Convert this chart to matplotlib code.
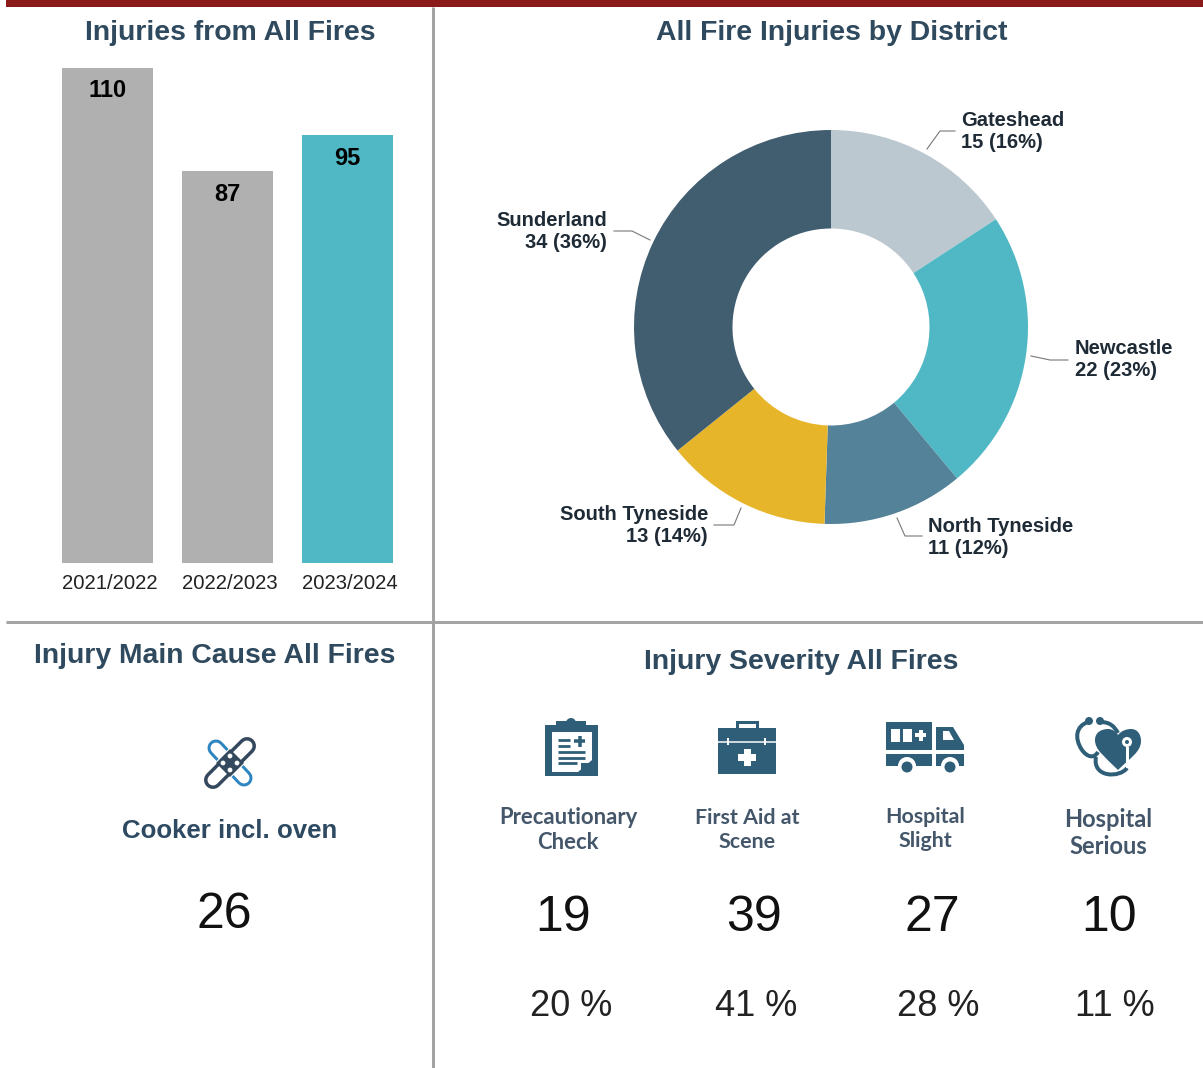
import matplotlib
matplotlib.use('Agg')
import matplotlib.pyplot as plt
from matplotlib.patches import Rectangle, Circle, Polygon, PathPatch
from matplotlib.path import Path

plt.rcParams['font.family'] = ['Liberation Sans', 'DejaVu Sans']

years = ['2021/2022', '2022/2023', '2023/2024']
injuries = [110, 87, 95]
bar_colors = ['#B0B0B0', '#B0B0B0', '#50B8C4']

districts = ['Gateshead', 'Newcastle', 'North Tyneside', 'South Tyneside', 'Sunderland']
district_values = [15, 22, 11, 13, 34]
district_pct = [16, 23, 12, 14, 36]
district_colors = ['#BCC8D0', '#50B8C4', '#548299', '#E6B52A', '#415D70']

severity_labels = ['Precautionary\nCheck', 'First Aid at\nScene', 'Hospital\nSlight', 'Hospital\nSerious']
severity_values = [19, 39, 27, 10]
severity_pct = [20, 41, 28, 11]

main_cause = 'Cooker incl. oven'
main_cause_value = 26

W, H = 1203, 1068
ICON = '#2F5F78'
DARK = '#1E2A35'


def px_axes(fig, x0, y0, x1, y1):
    # axes from pixel box, y measured from the top
    return fig.add_axes([x0/W, 1-y1/H, (x1-x0)/W, (y1-y0)/H])


def lw(px):
    return px*72/100


fig = plt.figure(figsize=(W/100, H/100), dpi=100, facecolor='white')

# bar panel
ax = px_axes(fig, 47.5, 68, 407.5, 563)
ax.bar(range(3), injuries, width=0.758, color=bar_colors)
ax.set_xlim(-0.5, 2.5)
ax.set_ylim(0, 110)
ax.set_xticks([0.02, 1.02, 2.02])
ax.set_xticklabels(years, fontsize=14.6, color='#222222')
ax.tick_params(axis='x', length=0, pad=8)
ax.set_yticks([])
for s in ax.spines.values():
    s.set_visible(False)
for i, v in enumerate(injuries):
    ax.text(i, v-5.1, str(v), ha='center', va='center', fontsize=17, fontweight='bold', color='black')

# donut panel
ax2 = px_axes(fig, 634, 130, 1028, 524)
ax2.pie(district_values, colors=district_colors, startangle=90, counterclock=False, radius=1,
        wedgeprops={'width': 0.5})
ax2.set_xlim(-1, 1)
ax2.set_ylim(-1, 1)

# overlay in pixel coordinates for the rest
ov = fig.add_axes([0, 0, 1, 1], zorder=5)
ov.set_xlim(0, W)
ov.set_ylim(H, 0)
ov.axis('off')
ov.patch.set_alpha(0)

ov.add_patch(Rectangle((6, 0), W, 7, color='#8B1A1A', lw=0))
ov.plot([432.5, 432.5], [7, H], color='#A3A3A3', lw=lw(3), solid_capstyle='butt')
ov.plot([6, W], [622, 622], color='#A3A3A3', lw=lw(3), solid_capstyle='butt')

title_kw = dict(ha='center', va='center', fontsize=20.4, fontweight='bold', color='#2F4A5E')
ov.text(230, 33, 'Injuries from All Fires', **title_kw)
ov.text(832, 33, 'All Fire Injuries by District', **title_kw)
ov.text(215, 656, 'Injury Main Cause All Fires', **title_kw)
ov.text(801, 662, 'Injury Severity All Fires', **title_kw)

# donut labels and leader lines
lab_pos = [(961, 132, 'left'), (1075, 360, 'left'), (928, 538, 'left'), (708, 525, 'right'), (607, 231, 'right')]
leaders = [[(927, 149), (940, 131), (955, 131)],
           [(1031, 356), (1050, 360), (1068, 360)],
           [(897, 518), (905, 536), (922, 536)],
           [(741, 508), (734, 525), (714, 525)],
           [(650, 240), (632, 231), (614, 231)]]
for i, name in enumerate(districts):
    x, y, ha = lab_pos[i]
    ov.text(x, y, '%s\n%d (%d%%)' % (name, district_values[i], district_pct[i]), ha=ha, va='center',
            fontsize=14.5, fontweight='bold', color=DARK, linespacing=1.2)
    xs, ys = zip(*leaders[i])
    ov.plot(xs, ys, color='#777777', lw=0.8)

# main cause panel
ov.plot([216, 244], [748, 778], color='#2E86C1', lw=lw(17), solid_capstyle='round')
ov.plot([216, 244], [748, 778], color='white', lw=lw(11), solid_capstyle='round')
ov.plot([213, 247], [780, 746], color='white', lw=lw(22), solid_capstyle='round')
ov.plot([213, 247], [780, 746], color='#34495E', lw=lw(18), solid_capstyle='round')
ov.plot([213, 247], [780, 746], color='white', lw=lw(11), solid_capstyle='round')
ov.add_patch(Polygon([(230, 749), (244, 763), (230, 777), (216, 763)], color='#34495E', lw=0, zorder=3))
for dx, dy in [(0, -7), (-7, 0), (7, 0), (0, 7)]:
    ov.add_patch(Circle((230+dx, 763+dy), 2.4, color='white', lw=0, zorder=4))
ov.text(230, 831, main_cause, ha='center', va='center', fontsize=18.6, fontweight='bold', color='#2E4A62')
ov.text(224, 915, str(main_cause_value), ha='center', va='center', fontsize=36, color='#111111')

# clipboard icon
ov.add_patch(Rectangle((545, 725), 53, 51, color=ICON, lw=0))
ov.add_patch(Rectangle((556, 721), 30, 6, color=ICON, lw=0))
ov.add_patch(Circle((571, 723), 5, color=ICON, lw=0))
ov.add_patch(Polygon([(552, 732), (592, 732), (592, 760), (578, 772), (552, 772)], color='white', lw=0))
for y, x1 in [(740, 570), (746, 570), (752, 585), (758, 585), (763, 577)]:
    ov.plot([558, x1], [y, y], color=ICON, lw=lw(2.8), solid_capstyle='butt')
ov.plot([574, 585], [741, 741], color=ICON, lw=lw(3.5), solid_capstyle='butt')
ov.plot([579.5, 579.5], [735.5, 746.5], color=ICON, lw=lw(3.5), solid_capstyle='butt')
ov.add_patch(Polygon([(581, 772), (592, 763), (581, 763)], color=ICON, lw=0))

# first aid case icon
ov.add_patch(Rectangle((718, 728), 58, 46, color=ICON, lw=0))
ov.add_patch(Rectangle((737, 722), 20, 10, fill=False, ec=ICON, lw=lw(3)))
ov.plot([718, 776], [742, 742], color='white', lw=lw(1.5))
ov.add_patch(Rectangle((727, 738), 2, 7, color='white', lw=0))
ov.add_patch(Rectangle((764, 738), 2, 7, color='white', lw=0))
ov.add_patch(Rectangle((738, 754), 18, 7, color='white', lw=0))
ov.add_patch(Rectangle((743.5, 749), 7, 17, color='white', lw=0))

# ambulance icon
ov.add_patch(Rectangle((886, 722), 46, 28, color=ICON, lw=0))
ov.add_patch(Rectangle((891, 729), 9, 13, color='white', lw=0))
ov.add_patch(Rectangle((903, 729), 9, 13, color='white', lw=0))
ov.add_patch(Rectangle((915, 733), 11, 4, color='white', lw=0))
ov.add_patch(Rectangle((918.5, 729.5), 4, 11, color='white', lw=0))
ov.add_patch(Polygon([(936, 727), (953, 727), (964, 745), (964, 750), (936, 750)], color=ICON, lw=0))
ov.add_patch(Polygon([(943, 731), (949, 731), (954, 740), (943, 740)], color='white', lw=0))
ov.add_patch(Rectangle((886, 754), 46, 12, color=ICON, lw=0))
ov.add_patch(Rectangle((936, 754), 28, 12, color=ICON, lw=0))
for cx in [907, 950]:
    ov.add_patch(Circle((cx, 766), 9, color='white', lw=0))
    ov.add_patch(Circle((cx, 767), 5.5, color=ICON, lw=0))

# stethoscope and heart icon
heart = Path([(1118, 770), (1104, 756), (1095, 750), (1095, 740), (1095, 732), (1102, 729), (1108, 729),
              (1113, 729), (1116, 732), (1118, 735), (1121, 731), (1126, 729), (1131, 729), (1138, 729),
              (1141, 735), (1141, 741), (1141, 752), (1130, 758), (1118, 770)],
             [Path.MOVETO] + [Path.CURVE4]*18)
ov.add_patch(PathPatch(heart, fc=ICON, ec='none'))
tube = Path([(1088, 722), (1076, 726), (1074, 738), (1082, 750), (1087, 757), (1094, 759), (1098, 752)],
            [Path.MOVETO] + [Path.CURVE4]*6)
ov.add_patch(PathPatch(tube, fc='none', ec=ICON, lw=lw(4)))
tube2 = Path([(1100, 722), (1110, 722), (1114, 726), (1118, 733)], [Path.MOVETO] + [Path.CURVE4]*3)
ov.add_patch(PathPatch(tube2, fc='none', ec=ICON, lw=lw(4)))
tube3 = Path([(1096, 757), (1092, 778), (1120, 778), (1127, 768)], [Path.MOVETO] + [Path.CURVE4]*3)
ov.add_patch(PathPatch(tube3, fc='none', ec=ICON, lw=lw(4)))
ov.add_patch(Circle((1089, 721), 4, color=ICON, lw=0))
ov.add_patch(Circle((1100, 721), 4, color=ICON, lw=0))
ov.add_patch(Circle((1127, 742), 6, fc='white', ec=ICON, lw=lw(2)))
ov.add_patch(Circle((1127, 742), 2, color=ICON, lw=0))
ov.plot([1127, 1127], [748, 766], color='white', lw=lw(3))

# severity columns
label_x = [568, 747, 925, 1108]
label_y = [830, 830, 829, 833]
label_size = [15.9, 15.4, 15.4, 17]
value_x = [563, 754, 932, 1109]
pct_x = [571, 756, 938, 1115]
for i in range(4):
    ov.text(label_x[i], label_y[i], severity_labels[i], ha='center', va='center', fontsize=label_size[i],
            fontweight='bold', family=['Lato', 'DejaVu Sans'], color='#44576A', linespacing=1.2)
    ov.text(value_x[i], 918, str(severity_values[i]), ha='center', va='center', fontsize=36, color='#111111')
    ov.text(pct_x[i], 1007, '%d %%' % severity_pct[i], ha='center', va='center', fontsize=26, color='#222222')

fig.savefig('out.png', dpi=100)
